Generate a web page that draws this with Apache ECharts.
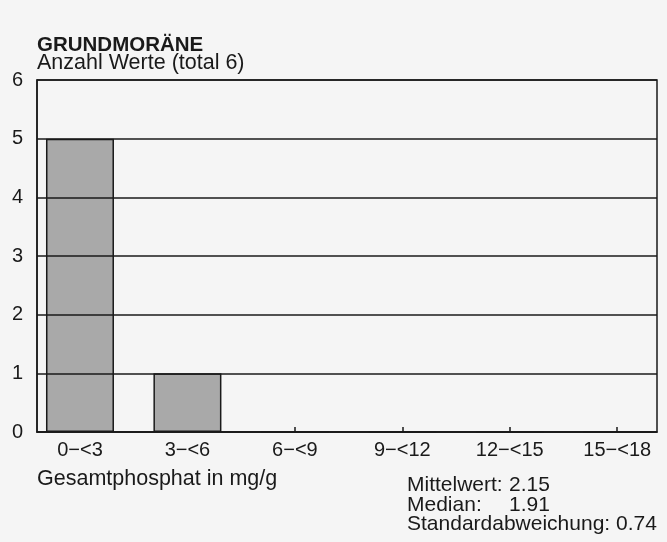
<!DOCTYPE html>
<html>
<head>
<meta charset="utf-8">
<script src="https://cdn.jsdelivr.net/npm/echarts@6/dist/echarts.min.js"></script>
<style>
  html, body { margin: 0; padding: 0; background: #f5f5f5; }
  #chart { width: 667px; height: 542px; }
</style>
</head>
<body>
<div id="chart"></div>
<script>
// Klassen (Gesamtphosphat in mg/g)
var categories = ["0\u2212<3", "3\u2212<6", "6\u2212<9", "9\u2212<12", "12\u2212<15", "15\u2212<18"];
// Anzahl Werte je Klasse
var counts = [5, 1, 0, 0, 0, 0];
var yTicks = [0, 1, 2, 3, 4, 5, 6];
var statLabels = ["Mittelwert:", "Median:", "Standardabweichung:"];
var statValues = ["2.15", "1.91", "0.74"];

var font = "Liberation Sans, Arial, Helvetica, sans-serif";
var ink = "#1a1a1a";

var chart = echarts.init(document.getElementById("chart"));

var barData = counts.map(function (v, i) { return [i, v]; });
var idx = categories.map(function (c, i) { return i; });

// Statistik unten rechts
var statText = [];
statLabels.forEach(function (lab, i) {
  var y = 486 + i * 19.5;
  if (i == 2) {
    statText.push({ type: "text", left: 407, top: y - 11,
      style: { text: lab + " " + statValues[i], font: "21px " + font, fill: ink } });
  } else {
    statText.push({ type: "text", left: 407, top: y - 11,
      style: { text: lab, font: "21px " + font, fill: ink } });
    statText.push({ type: "text", left: 509, top: y - 11,
      style: { text: statValues[i], font: "21px " + font, fill: ink } });
  }
});

var option = {
  backgroundColor: "#f5f5f5",
  animation: false,
  graphic: [
    { type: "text", left: 37, top: 35,
      style: { text: "GRUNDMORÄNE", font: "bold 20.5px " + font, fill: ink } },
    { type: "text", left: 37, top: 52,
      style: { text: "Anzahl Werte (total 6)", font: "21.5px " + font, fill: ink } },
    { type: "text", left: 37, top: 468,
      style: { text: "Gesamtphosphat in mg/g", font: "21.5px " + font, fill: ink } }
  ].concat(statText),
  grid: {
    left: 37,
    right: 10,
    top: 80,
    bottom: 110,
    show: true,
    borderColor: ink,
    borderWidth: 1.5,
    backgroundColor: "transparent"
  },
  xAxis: {
    type: "value",
    min: -0.4,
    max: 5.37,
    splitLine: { show: false },
    axisLine: { show: true, onZero: false, lineStyle: { color: ink, width: 1.5 } },
    axisTick: {
      show: true,
      inside: true,
      length: 5,
      customValues: idx,
      lineStyle: { color: ink, width: 1.5 }
    },
    axisLabel: {
      customValues: idx,
      margin: 8,
      fontSize: 20,
      fontFamily: font,
      color: ink,
      formatter: function (v) { return categories[Math.round(v)]; }
    }
  },
  yAxis: {
    type: "value",
    min: yTicks[0],
    max: yTicks[yTicks.length - 1],
    interval: 1,
    z: 5,
    axisLine: { show: true, onZero: false, lineStyle: { color: ink, width: 1.5 } },
    axisTick: { show: false },
    splitLine: { show: true, lineStyle: { color: ink, width: 1.5 } },
    axisLabel: {
      margin: 14,
      fontSize: 20,
      fontFamily: font,
      color: ink
    }
  },
  series: [
    {
      type: "bar",
      data: barData,
      barWidth: 68,
      z: 2,
      itemStyle: {
        color: "#a9a9a9",
        borderColor: ink,
        borderWidth: 1.5
      }
    }
  ]
};

chart.setOption(option);
</script>
</body>
</html>
